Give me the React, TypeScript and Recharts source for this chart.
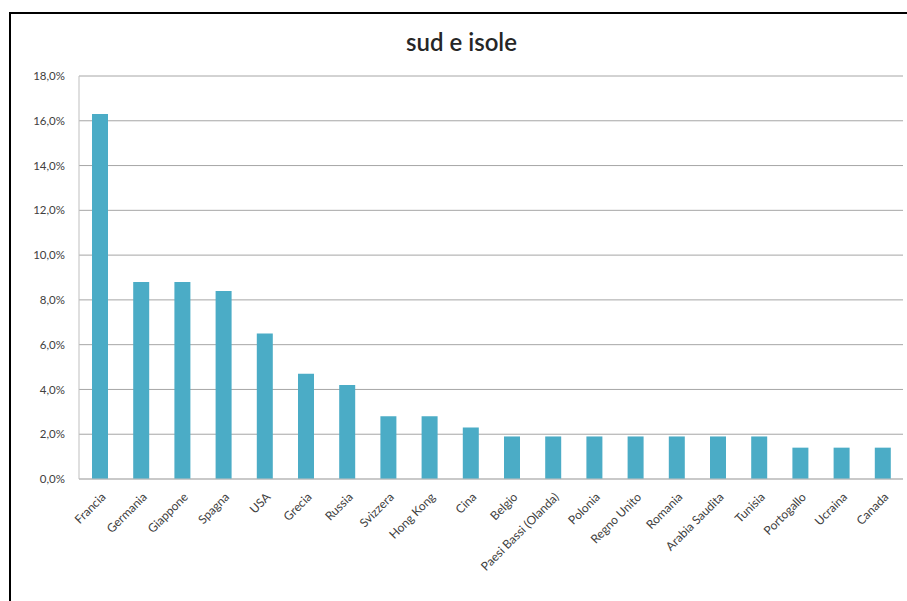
import { BarChart, Bar, XAxis, YAxis, CartesianGrid } from "recharts";

const countries = [
  "Francia",
  "Germania",
  "Giappone",
  "Spagna",
  "USA",
  "Grecia",
  "Russia",
  "Svizzera",
  "Hong Kong",
  "Cina",
  "Belgio",
  "Paesi Bassi (Olanda)",
  "Polonia",
  "Regno Unito",
  "Romania",
  "Arabia Saudita",
  "Tunisia",
  "Portogallo",
  "Ucraina",
  "Canada",
];

// percent share per country
const shares = [16.3, 8.8, 8.8, 8.4, 6.5, 4.7, 4.2, 2.8, 2.8, 2.3, 1.9, 1.9, 1.9, 1.9, 1.9, 1.9, 1.9, 1.4, 1.4, 1.4];

const yTicks = [0, 2, 4, 6, 8, 10, 12, 14, 16, 18];

const data = countries.map((name, i) => ({ name, value: shares[i] }));

const fmt = (v: number) => `${v.toFixed(1).replace(".", ",")}%`;

function AngledTick(props: any) {
  const { x, y, payload } = props;
  return (
    <g transform={`translate(${x + 4},${y + 8})`}>
      <text
        textAnchor="end"
        transform="rotate(-45)"
        fontSize={12}
        fontFamily="Lato, sans-serif"
        fill="#404040"
        dy={4}
      >
        {payload.value}
      </text>
    </g>
  );
}

export default function App() {
  return (
    <div
      style={{
        position: "absolute",
        left: 0,
        top: 0,
        width: 907,
        height: 601,
        background: "#fff",
        overflow: "hidden",
      }}
    >
      <div
        style={{
          position: "absolute",
          left: 9,
          top: 12,
          width: 940,
          height: 640,
          border: "2px solid #000",
        }}
      />
      <div
        style={{
          position: "absolute",
          left: 8,
          top: 27,
          width: 907,
          textAlign: "center",
          fontFamily: "Lato, sans-serif",
          fontWeight: 600,
          fontSize: 24,
          color: "#262626",
        }}
      >
        sud e isole
      </div>
      <div style={{ position: "absolute", left: 0, top: 0 }}>
        <BarChart
          width={907}
          height={601}
          data={data}
          margin={{ top: 76, right: 4, left: 0, bottom: 0 }}
        >
          <CartesianGrid vertical={false} stroke="#a6a6a6" />
          <XAxis
            dataKey="name"
            interval={0}
            height={122}
            tickLine={false}
            axisLine={{ stroke: "#bfbfbf" }}
            tick={<AngledTick />}
          />
          <YAxis
            width={79}
            domain={[0, 18]}
            ticks={yTicks}
            tickFormatter={fmt}
            tickLine={false}
            tickMargin={8}
            axisLine={{ stroke: "#bfbfbf" }}
            tick={{ fontSize: 11.5, fill: "#404040", fontFamily: "Lato, sans-serif" }}
          />
          <Bar dataKey="value" fill="#4BACC6" barSize={16} isAnimationActive={false} />
        </BarChart>
      </div>
    </div>
  );
}
